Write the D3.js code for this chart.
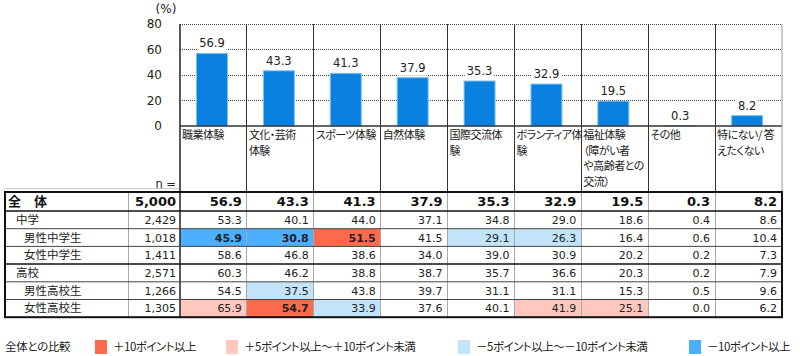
<!DOCTYPE html>
<html><head><meta charset="utf-8">
<script src="https://cdn.jsdelivr.net/npm/d3@7"></script>
<style>
body{margin:0;background:#fff;}
.jp{font-family:"Noto Sans CJK JP",sans-serif;font-feature-settings:"palt" 1;}
.num{font-family:"DejaVu Sans",sans-serif;}
</style></head><body>
<svg id="c" width="800" height="356"></svg>
<script>
// ---- data ----
const categories = ["職業体験","文化・芸術体験","スポーツ体験","自然体験","国際交流体験","ボランティア体験","福祉体験（障がい者や高齢者との交流）","その他","特にない/答えたくない"];
const categoryLines = [["職業体験"],["文化・芸術","体験"],["スポーツ体験"],["自然体験"],["国際交流体","験"],["ボランティア体","験"],["福祉体験","（障がい者","や高齢者との","交流）"],["その他"],["特にない/ 答","えたくない"]];
const overall = [56.9,43.3,41.3,37.9,35.3,32.9,19.5,0.3,8.2];
const overallLabel = "全　体";
const overallN = 5000;
const rowLabels = ["中学","男性中学生","女性中学生","高校","男性高校生","女性高校生"];
const rowLevel = [1,2,2,1,2,2];
const rowN = [2429,1018,1411,2571,1266,1305];
const rowValues = [
  [53.3,40.1,44.0,37.1,34.8,29.0,18.6,0.4,8.6],
  [45.9,30.8,51.5,41.5,29.1,26.3,16.4,0.6,10.4],
  [58.6,46.8,38.6,34.0,39.0,30.9,20.2,0.2,7.3],
  [60.3,46.2,38.8,38.7,35.7,36.6,20.3,0.2,7.9],
  [54.5,37.5,43.8,39.7,31.1,31.1,15.3,0.5,9.6],
  [65.9,54.7,33.9,37.6,40.1,41.9,25.1,0.0,6.2]
];
const yTicks = [0,20,40,60,80];
const legendTitle = "全体との比較";
const legendLabels = ["＋10ポイント以上","＋5ポイント以上～＋10ポイント未満","－5ポイント以上～－10ポイント未満","－10ポイント以上"];

// ---- layout ----
const svg = d3.select("#c");
const chartTop = 24, chartBottom = 126, tableTop = 192, headH = 19, rowH = 17.7;
const left = 180, right = 782, tblLeft = 5, nLeft = 128;
const x = d3.scaleBand().domain(categories).range([left, right]);
const bw = x.bandwidth();
const y = d3.scaleLinear().domain([0,80]).range([chartBottom, chartTop]);
const colors = {red:"#ff6a4d", pink:"#ffc8be", lblue:"#c3e3fb", blue:"#4dafff"};
const legendColors = [colors.red, colors.pink, colors.lblue, colors.blue];

// gridlines
svg.append("g").selectAll("line").data(yTicks.filter(d=>d>0)).join("line")
  .attr("x1",left).attr("x2",right).attr("y1",d=>y(d)).attr("y2",d=>y(d))
  .attr("stroke","#444").attr("stroke-width",1).attr("stroke-dasharray","1,1").attr("shape-rendering","crispEdges");

// y tick labels
svg.append("g").selectAll("text").data(yTicks).join("text").attr("class","num")
  .attr("x",162).attr("y",d=>y(d)).attr("dy","0.36em").attr("text-anchor","end")
  .attr("font-size","12px").attr("fill","#222").text(d=>d);
svg.append("text").attr("class","num").attr("x",166).attr("y",13).attr("text-anchor","middle")
  .attr("font-size","12px").attr("fill","#222").text("(%)");

// bars
const barOff = bw*0.247, barW = bw*0.463;
svg.append("g").selectAll("rect").data(overall).join("rect")
  .attr("x",(d,i)=>x(categories[i])+barOff).attr("width",barW)
  .attr("y",d=>y(d)).attr("height",d=>chartBottom-y(d))
  .attr("fill","#0a80e0").attr("stroke","#7cc2f2").attr("stroke-width",1);

// value labels with white backgrounds
const vl = svg.append("g");
overall.forEach((d,i)=>{
  const cx = x(categories[i])+barOff+barW/2;
  const by = y(d)-6;
  const t = vl.append("text").attr("class","num").attr("x",cx).attr("y",by)
    .attr("text-anchor","middle").attr("font-size","11.5px").attr("fill","#222").text(d.toFixed(1));
  const b = t.node().getBBox();
  vl.insert("rect","text").attr("x",b.x-2).attr("y",b.y-1).attr("width",b.width+4).attr("height",b.height+2).attr("fill","#fff");
});

// axis line at 0
svg.append("line").attr("x1",left).attr("x2",right).attr("y1",y(0)).attr("y2",y(0))
  .attr("stroke","#333").attr("stroke-width",1.5);

// category labels
const cl = svg.append("g");
categoryLines.forEach((lines,i)=>{
  const t = cl.append("text").attr("class","jp").attr("font-size","11px").attr("letter-spacing","-0.5px").attr("fill","#222");
  lines.forEach((ln,j)=>{
    t.append("tspan").attr("x",x(categories[i])+2).attr("y",139+j*15.6).text(ln);
  });
});

// "n =" label
svg.append("text").attr("class","num").attr("x",176).attr("y",184).attr("dy","0.36em")
  .attr("text-anchor","end").attr("font-size","11.5px").attr("fill","#222").text("n =");
svg.append("line").attr("x1",tblLeft).attr("x2",left).attr("y1",188.5).attr("y2",188.5).attr("stroke","#ccc");

// highlighted cells
function cls(v,base){const d=+(v-base).toFixed(1); if(d>=10)return "red"; if(d>=5)return "pink"; if(d<=-10)return "blue"; if(d<=-5)return "lblue"; return null;}
const rowY = i => tableTop+headH+i*rowH;
const hl = svg.append("g");
rowValues.forEach((vals,r)=>vals.forEach((v,c)=>{
  const k = cls(v,overall[c]);
  if(k) hl.append("rect").attr("x",x(categories[c])).attr("y",rowY(r)).attr("width",bw).attr("height",rowH).attr("fill",colors[k]);
}));

// column lines: chart area (dark) and table area (gray)
const vlines = svg.append("g");
categories.slice(1).forEach(c=>{
  vlines.append("line").attr("x1",x(c)).attr("x2",x(c)).attr("y1",chartTop).attr("y2",tableTop).attr("stroke","#333").attr("shape-rendering","crispEdges");
  vlines.append("line").attr("x1",x(c)).attr("x2",x(c)).attr("y1",tableTop).attr("y2",rowY(6)).attr("stroke","#a8a8a8").attr("shape-rendering","crispEdges");
});
vlines.append("line").attr("x1",right).attr("x2",right).attr("y1",chartTop).attr("y2",tableTop).attr("stroke","#999");
vlines.append("line").attr("x1",nLeft).attr("x2",nLeft).attr("y1",tableTop).attr("y2",rowY(6)).attr("stroke","#a8a8a8").attr("shape-rendering","crispEdges");
vlines.append("line").attr("x1",left).attr("x2",left).attr("y1",chartTop).attr("y2",rowY(6)).attr("stroke","#222").attr("stroke-width",1.5);

// row lines
const hlines = svg.append("g");
for(let r=1;r<6;r++){
  const grp = rowLevel[r]===1;
  hlines.append("line").attr("x1",tblLeft).attr("x2",right).attr("y1",rowY(r)).attr("y2",rowY(r))
    .attr("stroke",grp?"#111":"#444").attr("stroke-width",grp?1.5:1);
}
hlines.append("line").attr("x1",tblLeft).attr("x2",right).attr("y1",rowY(0)).attr("y2",rowY(0)).attr("stroke","#111").attr("stroke-width",1.5);
hlines.append("rect").attr("x",tblLeft).attr("y",tableTop).attr("width",right-tblLeft).attr("height",rowY(6)-tableTop)
  .attr("fill","none").attr("stroke","#111").attr("stroke-width",2);

// table text: overall row
const tt = svg.append("g");
const headMid = tableTop+headH/2;
tt.append("text").attr("class","jp").attr("x",8).attr("y",headMid).attr("dy","0.36em")
  .attr("font-size","13px").attr("font-weight","bold").attr("fill","#111").text(overallLabel);
tt.append("text").attr("class","num").attr("x",left-4).attr("y",headMid).attr("dy","0.36em")
  .attr("text-anchor","end").attr("font-size","13px").attr("font-weight","bold").attr("fill","#111").text(d3.format(",")(overallN));
overall.forEach((v,c)=>{
  tt.append("text").attr("class","num").attr("x",x(categories[c])+bw-5).attr("y",headMid).attr("dy","0.36em")
    .attr("text-anchor","end").attr("font-size","13px").attr("font-weight","bold").attr("fill","#111").text(v.toFixed(1));
});
// data rows
rowLabels.forEach((lab,r)=>{
  const my = rowY(r)+rowH/2;
  tt.append("text").attr("class","jp").attr("x",rowLevel[r]===1?16:24).attr("y",my).attr("dy","0.36em")
    .attr("font-size","11.5px").attr("fill","#222").text(lab);
  tt.append("text").attr("class","num").attr("x",left-4).attr("y",my).attr("dy","0.36em")
    .attr("text-anchor","end").attr("font-size","11px").attr("fill","#222").text(d3.format(",")(rowN[r]));
  rowValues[r].forEach((v,c)=>{
    const k = cls(v,overall[c]);
    const strong = k==="red"||k==="blue";
    tt.append("text").attr("class","num").attr("x",x(categories[c])+bw-5).attr("y",my).attr("dy","0.36em")
      .attr("text-anchor","end").attr("font-size","11px").attr("font-weight",strong?"bold":"normal")
      .attr("fill","#222").text(v.toFixed(1));
  });
});

// legend
const lg = svg.append("g");
const ly = 347;
lg.append("text").attr("class","jp").attr("x",5).attr("y",ly).attr("dy","0.36em").attr("font-size","11.5px").attr("letter-spacing","-0.3px").attr("fill","#222").text(legendTitle);
const legendX = [95,226,458,689];
legendLabels.forEach((lab,i)=>{
  lg.append("rect").attr("x",legendX[i]).attr("y",ly-7).attr("width",12).attr("height",14).attr("fill",legendColors[i]);
  lg.append("text").attr("class","jp").attr("x",legendX[i]+18).attr("y",ly).attr("dy","0.36em").attr("font-size","11.5px").attr("letter-spacing","-0.5px").attr("fill","#222").text(lab);
});
</script></body></html>
